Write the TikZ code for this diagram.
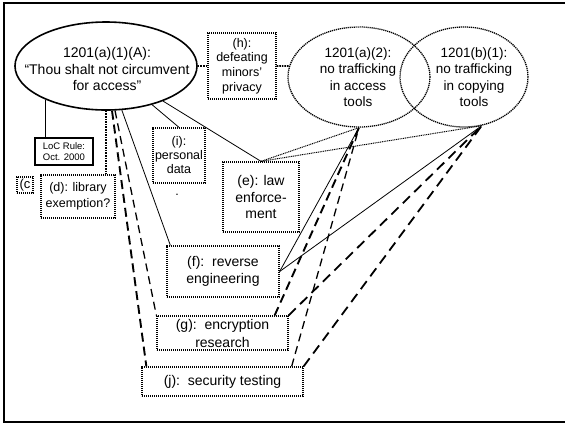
\documentclass[tikz,border=0pt]{standalone}
\usepackage{fontspec}
\setmainfont{Liberation Sans}
\usetikzlibrary{shapes.geometric,calc}
\begin{document}
\begin{tikzpicture}[x=1pt,y=-1pt,
  fine dots/.style={dash pattern=on 1.2pt off 0.8pt},
  lbl/.style={inner sep=0pt, align=center},
  dotbox/.style={draw, fine dots, line width=1.3pt, inner sep=0pt, align=center},
  solbox/.style={draw, line width=1.6pt, inner sep=0pt, align=center},
  oval/.style={ellipse, inner sep=0pt},
  fbig/.style={font=\fontsize{14}{16.5}\selectfont},
  fell/.style={font=\fontsize{13.5}{16.5}\selectfont},
  fmid/.style={font=\fontsize{12.5}{14.6}\selectfont},
  fsmall/.style={font=\fontsize{9.5}{11.5}\selectfont},
  fineline/.style={line width=0.8pt},
  dotlink/.style={dash pattern=on 1.6pt off 1pt, line width=1.7pt},
  dotthin/.style={dash pattern=on 1pt off 0.8pt, line width=1pt},
  dashA/.style={line width=1.9pt, dash pattern=on 9pt off 5pt},
  dashB/.style={line width=1.3pt, dash pattern=on 8pt off 5pt},
]
\useasboundingbox (0,0) rectangle (565,424);
% outer frame (open on the right)
\draw[line width=2pt] (565,3) -- (4,3) -- (4,422) -- (565,422);

% the three statute ovals
\node[oval, draw, line width=1.6pt, minimum width=182pt, minimum height=88pt] (A) at (106,66) {};
\node[lbl, fbig] (At) at (107,69) {1201(a)(1)(A):\\“Thou shalt not circumvent\\for access”};
\node[oval, draw, fine dots, line width=1.3pt, minimum width=142pt, minimum height=100pt] (E2) at (359,77) {};
\node[lbl, fell] (E2t) at (358,77) {1201(a)(2):\\no trafficking\\in access\\tools};
\node[oval, draw, fine dots, line width=1.3pt, minimum width=128pt, minimum height=100pt] (E3) at (464,77) {};
\node[lbl, fell] (E3t) at (474,77) {1201(b)(1):\\no trafficking\\in copying\\tools};

% exemption boxes
\node[dotbox, fmid, minimum width=68pt, minimum height=66pt] (h) at (242,66) {(h):\\defeating\\minors’\\privacy};
\node[solbox, fsmall, minimum width=58pt, minimum height=27pt] (LoC) at (64,151.5) {LoC Rule:\\Oct. 2000};
\node[dotbox, font=\fontsize{13}{15}\selectfont, minimum width=16pt, minimum height=16pt] (c) at (25,185) {(c};
\node[dotbox, font=\fontsize{12.5}{16}\selectfont, minimum width=74pt, minimum height=43pt] (d) at (78,196.5) {(d): library\\exemption?};
\node[dotbox, font=\fontsize{12.5}{14}\selectfont, minimum width=52pt, minimum height=55pt] (i) at (179,155.5) {(i):\\personal\\data};
\node[lbl, fmid] (idot) at (177,195) {.};
\node[dotbox, fbig, minimum width=76pt, minimum height=70pt] (e) at (261,197) {(e): law\\enforce-\\ment};
\node[dotbox, font=\fontsize{14}{17}\selectfont, minimum width=112pt, minimum height=51pt] (f) at (223,271.5) {(f):\ \ reverse\\engineering};
\node[dotbox, font=\fontsize{14}{18}\selectfont, minimum width=131pt, minimum height=34pt] (g) at (222.5,333) {(g):\ \ encryption\\research};
\node[dotbox, fbig, minimum width=161pt, minimum height=29pt] (j) at (222.5,381.5) {(j):\ \ security testing};

% attachment points on box edges and on the copying-tools oval
\coordinate (p3) at (E3.-70);
\coordinate (fTop) at ($(f.north west)+(4,0)$);
\coordinate (jL) at ($(j.north west)+(5,0)$);
\coordinate (gR) at ($(g.north east)+(-14,0)$);
\coordinate (jR) at ($(j.north east)+(-12,0)$);

% links from the access-circumvention oval
\draw[line width=1.3pt] (A.-151.8) -- (A.-151.8 |- LoC.north);
\draw[dotlink] (A.south) -- (A.south |- d.north);
\draw[dotlink] (A.east) -- (h.west);
\draw[dotlink] (h.east) -- (E2.171);
\draw[fineline] (A) -- (i.north);
\draw[fineline] (A) -- (e.north);
\draw[fineline] (A) -- (fTop);
\draw[dashA] (A) -- (jL);
\draw[dashB] (A) -- (g.north west);

% links to the two trafficking ovals
\draw[dotthin] (e.north) -- (E2.south);
\draw[dotthin] (e.north) -- (p3);
\draw[fineline] (f.east) -- (E2.south);
\draw[fineline] (f.east) -- (p3);
\draw[dashA] (gR) -- (E2.south);
\draw[line width=1.8pt, dash pattern=on 10pt off 6pt] (g.north east) -- (p3);
\draw[dashB] (jR) -- (E2.south);
\draw[line width=1.8pt, dash pattern=on 10pt off 6pt] (j.north east) -- (p3);
\end{tikzpicture}
\end{document}
